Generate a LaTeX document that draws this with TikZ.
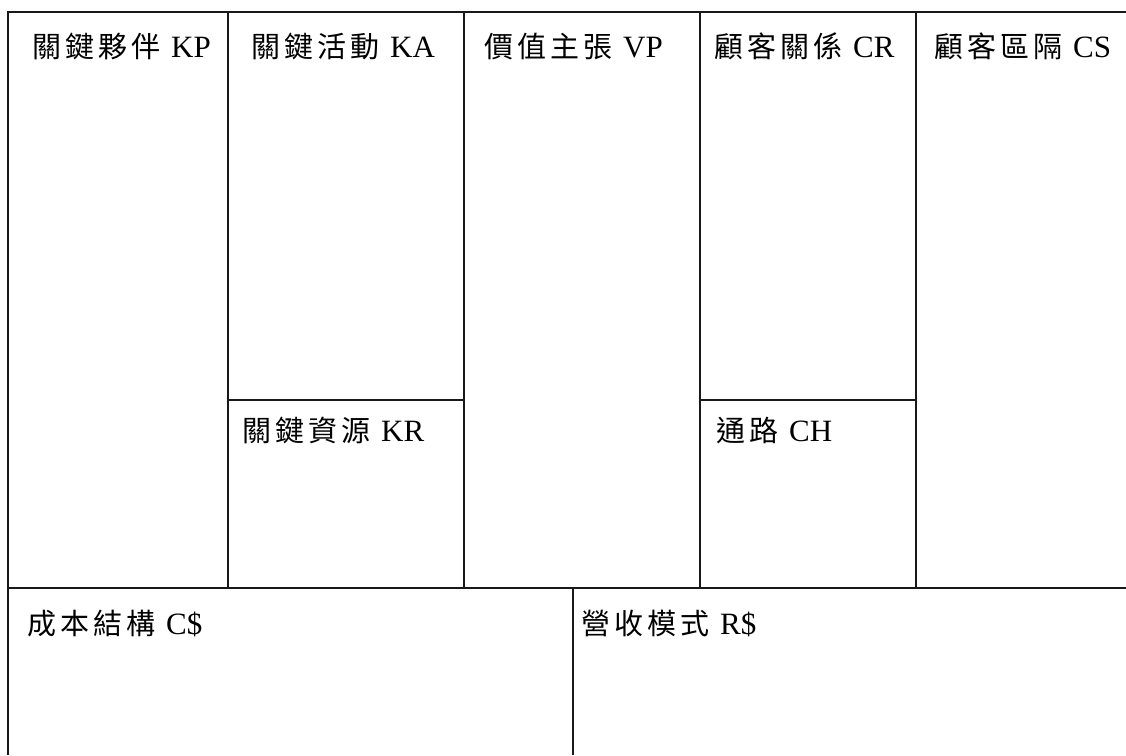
\documentclass[tikz,border=0pt]{standalone}
\usepackage{fontspec}
\setmainfont{Liberation Serif}
\newfontfamily\cjk{Noto Sans CJK TC}
\def\g{\kern4pt}
\newcommand\lab[2]{{\cjk\fontsize{29}{30}\selectfont #1}\kern11pt{\fontsize{31}{31}\selectfont #2}}
\begin{document}
\begin{tikzpicture}[x=1pt,y=-1pt,
  grid/.style={line width=2pt, black!90},
  lbl/.style={anchor=base west, inner sep=0pt, text=black}]
\useasboundingbox (0,0) rectangle (1126,755);
% grid lines
\draw[grid] (8,755) -- (8,12) -- (1126,12);
\draw[grid] (8,588) -- (1126,588);
\draw[grid] (228,12) -- (228,588);
\draw[grid] (464,12) -- (464,588);
\draw[grid] (700,12) -- (700,588);
\draw[grid] (916,12) -- (916,588);
\draw[grid] (228,400) -- (464,400);
\draw[grid] (700,400) -- (916,400);
\draw[grid] (573,588) -- (573,755);
% labels
\node[lbl] (kp) at (32,57) {\lab{關\g 鍵\g 夥\g 伴}{KP}};
\node[lbl] (ka) at (251,57) {\lab{關\g 鍵\g 活\g 動}{KA}};
\node[lbl] (vp) at (484,57) {\lab{價\g 值\g 主\g 張}{VP}};
\node[lbl] (cr) at (714,57) {\lab{顧\g 客\g 關\g 係}{CR}};
\node[lbl] (cs) at (934,57) {\lab{顧\g 客\g 區\g 隔}{CS}};
\node[lbl] (kr) at (242,441) {\lab{關\g 鍵\g 資\g 源}{KR}};
\node[lbl] (ch) at (716,441) {\lab{通\g 路}{CH}};
\node[lbl] (cc) at (27,634) {\lab{成\g 本\g 結\g 構}{C\$}};
\node[lbl] (rr) at (581,634) {\lab{營\g 收\g 模\g 式}{R\$}};
\end{tikzpicture}
\end{document}
